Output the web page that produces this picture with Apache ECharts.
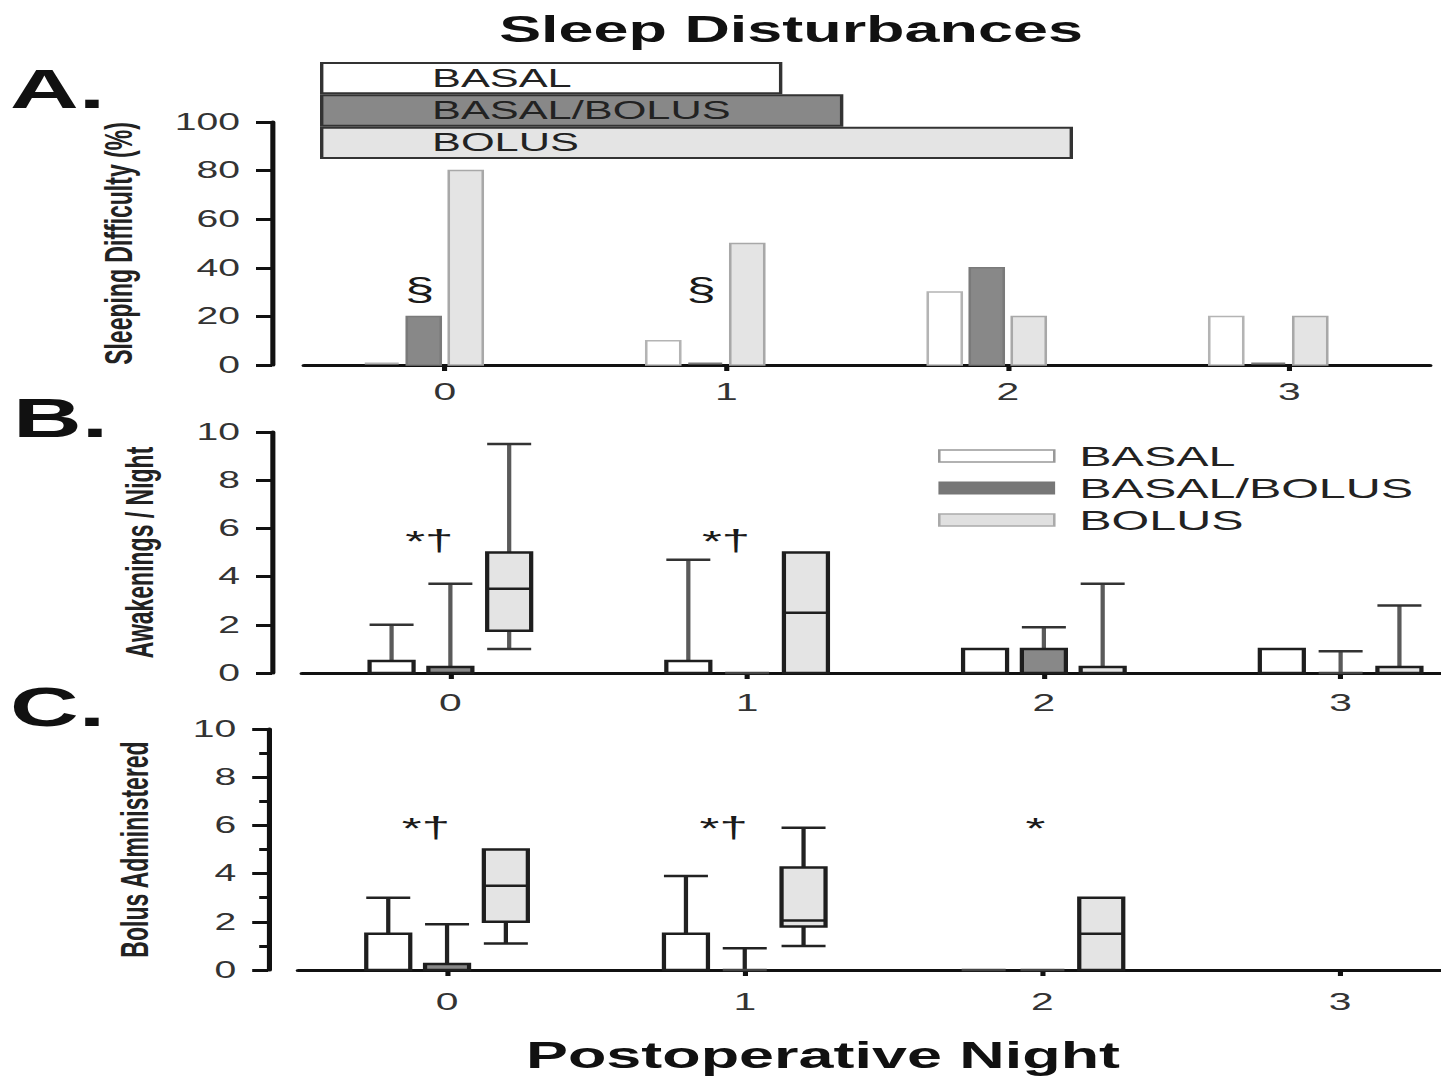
<!DOCTYPE html>
<html>
<head>
<meta charset="utf-8">
<title>Sleep Disturbances</title>
<script src="https://cdn.jsdelivr.net/npm/echarts@6/dist/echarts.min.js"></script>
<style>
  html, body { margin: 0; padding: 0; background: #fff; overflow: hidden; }
  #chart { height: 1081px; transform-origin: 0 0; }
</style>
</head>
<body>
<div id="chart"></div>
<script>
// The figure is laid out narrow and widened with a horizontal stretch,
// which gives the wide lettering and heavier vertical strokes of the print.
const SX = 1.7;
const X = v => v / SX;           // horizontal page pixels -> chart pixels

// ---- data --------------------------------------------------------------
const nights = ['0', '1', '2', '3'];
const groupNames = ['BASAL', 'BASAL/BOLUS', 'BOLUS'];

// A. share of patients with sleeping difficulty (%)
const difficultyBasal      = [0, 10, 30, 20];
const difficultyBasalBolus = [20, 0, 40, 0];
const difficultyBolus      = [80, 50, 20, 20];

// treatment span bars above panel A (relative length, BOLUS = 100)
const treatmentSpan = [61.4, 69.5, 100];

// B. awakenings per night: [min, q1, median, q3, max]
const wakeBasal = [[0, 0, 0, 0.5, 2], [0, 0, 0, 0.5, 4.7], [0, 0, 0, 1, 1], [0, 0, 0, 1, 1]];
const wakeBasalBolus = [[0, 0, 0, 0.25, 3.7], [0, 0, 0, 0, 0], [0, 0, 0, 1, 1.9], [0, 0, 0, 0, 0.9]];
const wakeBolus = [[1, 1.75, 3.5, 5, 9.5], [0, 0, 2.5, 5, 5], [0, 0, 0, 0.25, 3.7], [0, 0, 0, 0.25, 2.8]];

// C. boluses administered: [min, q1, median, q3, max]
const bolusBasal = [[0, 0, 0, 1.5, 3], [0, 0, 0, 1.5, 3.9], [0, 0, 0, 0, 0], null];
const bolusBasalBolus = [[0, 0, 0, 0.25, 1.9], [0, 0, 0, 0, 0.9], [0, 0, 0, 0, 0], null];
const bolusBolus = [[1.1, 2, 3.5, 5, 5], [1, 1.8, 2.05, 4.25, 5.9], [0, 0, 1.5, 3, 3], null];

// significance marks per night
const marksA = ['§', '§', '', ''];
const marksB = ['*†', '*†', '', ''];
const marksC = ['*†', '*†', '*', ''];

// ---- styling -----------------------------------------------------------
const FONT = '"Liberation Sans", Arial, Helvetica, sans-serif';
const fills   = ['#ffffff', '#888888', '#e4e4e4'];
const edgesA  = ['#b4b4b4', '#7a7a7a', '#a8a8a8'];
const boxEdge = '#1e1e1e';

const el = document.getElementById('chart');
el.style.width = (1441 / SX) + 'px';
el.style.transform = 'scaleX(' + SX + ')';
const chart = echarts.init(el, null, { renderer: 'svg' });

// bars of panel A, grouped a little left of each night's tick
function barSeries(values, slot) {
  return {
    type: 'custom', name: groupNames[slot], xAxisIndex: 1, yAxisIndex: 1,
    data: values.map((v, i) => [i, v]),
    renderItem(params, api) {
      const i = api.value(0), v = api.value(1);
      const top = api.coord([i, v]);
      const base = api.coord([i, 0]);
      const cx = base[0] + X(-21) + (slot - 1) * X(42);
      const w = X(34);
      if (v > 0) {
        return { type: 'rect',
          shape: { x: cx - w / 2, y: top[1], width: w, height: base[1] - top[1] },
          style: { fill: fills[slot], stroke: edgesA[slot], lineWidth: 1.5 } };
      }
      return { type: 'line',
        shape: { x1: cx - w / 2, y1: base[1] - 1.5, x2: cx + w / 2, y2: base[1] - 1.5 },
        style: { stroke: edgesA[slot], lineWidth: 2 } };
    }
  };
}

// box-and-whisker marks for panels B and C
function boxSeries(stats, slot, axis, whisker, cap) {
  return {
    type: 'custom', name: groupNames[slot], xAxisIndex: axis, yAxisIndex: axis,
    data: stats.map((s, i) => (s ? [i].concat(s) : null)).filter(Boolean),
    renderItem(params, api) {
      const i = api.value(0);
      const [mn, q1, md, q3, mx] = [1, 2, 3, 4, 5].map(k => api.value(k));
      const y = v => api.coord([i, v])[1];
      const cx = api.coord([i, 0])[0] + (slot - 1) * X(58.8);
      const w = X(44);
      const kids = [];
      const hline = (v, color) => ({ type: 'line',
        shape: { x1: cx - w / 2, y1: y(v), x2: cx + w / 2, y2: y(v) },
        style: { stroke: color, lineWidth: 2.5 } });
      if (mx > q3) {
        kids.push({ type: 'line', shape: { x1: cx, y1: y(q3), x2: cx, y2: y(mx) },
          style: { stroke: whisker, lineWidth: 2.5 } });
        kids.push(hline(mx, cap));
      }
      if (mn < q1) {
        kids.push({ type: 'line', shape: { x1: cx, y1: y(q1), x2: cx, y2: y(mn) },
          style: { stroke: whisker, lineWidth: 2.5 } });
        kids.push(hline(mn, cap));
      }
      if (q3 > q1) {
        kids.push({ type: 'rect',
          shape: { x: cx - w / 2, y: y(q3), width: w, height: y(q1) - y(q3) },
          style: { fill: fills[slot], stroke: boxEdge, lineWidth: 2.5 } });
        if (md > q1 && md < q3) kids.push(hline(md, boxEdge));
      } else {
        kids.push(hline(q1, '#444'));
      }
      return { type: 'group', children: kids };
    }
  };
}

// significance symbols placed over the middle group of a night
function markSeries(texts, axis, yVal, dx, align, size) {
  return {
    type: 'custom', xAxisIndex: axis, yAxisIndex: axis, silent: true,
    data: texts.map((t, i) => [i]),
    renderItem(params, api) {
      const t = texts[params.dataIndex];
      if (!t) return null;
      const p = api.coord([api.value(0), yVal]);
      return { type: 'text', x: p[0] + X(dx), y: p[1],
        style: { text: t, fill: '#1a1a1a', fontSize: size, fontFamily: FONT,
                 align: align, verticalAlign: 'middle' } };
    }
  };
}

const axisLine = { show: true, lineStyle: { color: '#111', width: 3 } };
const catAxis = (grid, offset) => ({
  gridIndex: grid, type: 'category', data: nights, offset: offset,
  axisLine: axisLine,
  axisTick: { show: true, alignWithLabel: true, interval: 0, length: 6,
              lineStyle: { color: '#111', width: 3 } },
  axisLabel: { fontSize: 24, color: '#333', margin: 15, fontFamily: FONT },
  splitLine: { show: false }
});
const valAxis = (grid, max, interval, offset, name, gap, minor) => ({
  gridIndex: grid, type: 'value', min: 0, max: max, interval: interval,
  offset: X(offset),
  axisLine: axisLine,
  axisTick: { show: true, inside: false, length: X(16), lineStyle: { color: '#111', width: 3 } },
  minorTick: { show: !!minor, splitNumber: 2, length: X(9), lineStyle: { color: '#111', width: 3 } },
  axisLabel: { fontSize: 23, color: '#333', margin: X(32), fontFamily: FONT },
  splitLine: { show: false },
  name: name, nameLocation: 'middle', nameRotate: 90, nameGap: gap,
  nameMoveOverlap: false,
  nameTextStyle: { fontSize: 23, fontWeight: 'bold', color: '#222', fontFamily: FONT }
});

const letter = (text, x, y) => ({
  type: 'text', x: X(x), y: y, silent: true,
  style: { text: text, fontSize: 56, fontWeight: 'bold', fontFamily: FONT, fill: '#111',
           align: 'left', verticalAlign: 'middle' }
});

const option = {
  backgroundColor: '#fff',
  animation: false,
  grid: [
    { left: X(320), width: X(753), top: 62, height: 97, outerBoundsMode: 'none' },
    { left: X(304), width: X(1126), top: 122, height: 243, outerBoundsMode: 'none' },
    { left: X(302), width: X(1187), top: 432, height: 241, outerBoundsMode: 'none' },
    { left: X(298.2), width: X(1190.8), top: 729, height: 241, outerBoundsMode: 'none' }
  ],
  xAxis: [
    { gridIndex: 0, type: 'value', min: 0, max: 100, show: false },
    catAxis(1, 0),
    catAxis(2, 3),
    catAxis(3, 5)
  ],
  yAxis: [
    { gridIndex: 0, type: 'category', data: groupNames, inverse: true, show: false },
    valAxis(1, 100, 20, 32, 'Sleeping Difficulty (%)', X(134), false),
    valAxis(2, 10, 2, 30, 'Awakenings / Night', X(113), false),
    valAxis(3, 10, 2, 30, 'Bolus Administered', X(114), true)
  ],
  legend: {
    orient: 'vertical', left: X(938), top: 441, padding: 0, icon: 'rect',
    itemWidth: X(115), itemHeight: 12, itemGap: 2, selectedMode: false,
    textStyle: { fontSize: 28.5, color: '#222', fontFamily: FONT, lineHeight: 30,
                 padding: [0, 0, 0, X(25) - 5] },
    data: [
      { name: groupNames[0], itemStyle: { color: '#fff', borderColor: '#999', borderWidth: 1.5 } },
      { name: groupNames[1], itemStyle: { color: '#777', borderColor: '#777', borderWidth: 1 } },
      { name: groupNames[2], itemStyle: { color: '#e0e0e0', borderColor: '#aaa', borderWidth: 1.5 } }
    ]
  },
  graphic: [
    { type: 'text', x: X(791), y: 29, silent: true,
      style: { text: 'Sleep Disturbances', fontSize: 37, fontWeight: 'bold', fontFamily: FONT,
               fill: '#111', align: 'center', verticalAlign: 'middle' } },
    { type: 'text', x: X(823), y: 1055, silent: true,
      style: { text: 'Postoperative Night', fontSize: 37, fontWeight: 'bold', fontFamily: FONT,
               fill: '#111', align: 'center', verticalAlign: 'middle' } },
    letter('A.', 10, 89),
    letter('B.', 13, 418),
    letter('C.', 10, 707)
  ],
  series: [
    {
      type: 'bar', xAxisIndex: 0, yAxisIndex: 0, barWidth: '100%', silent: true,
      data: treatmentSpan.map((v, i) => ({ value: v, itemStyle: { color: fills[i] } })),
      itemStyle: { borderColor: '#333', borderWidth: 2 },
      label: { show: true, position: 'insideLeft', distance: X(112),
               formatter: p => groupNames[p.dataIndex],
               fontSize: 25.5, color: '#222', fontFamily: FONT }
    },
    barSeries(difficultyBasal, 0),
    barSeries(difficultyBasalBolus, 1),
    barSeries(difficultyBolus, 2),
    markSeries(marksA, 1, 31, -25, 'center', 31),

    boxSeries(wakeBasal, 0, 2, '#5a5a5a', '#333'),
    boxSeries(wakeBasalBolus, 1, 2, '#5a5a5a', '#333'),
    boxSeries(wakeBolus, 2, 2, '#5a5a5a', '#333'),
    markSeries(marksB, 2, 5.5, 3, 'right', 30),

    boxSeries(bolusBasal, 0, 3, '#222', '#222'),
    boxSeries(bolusBasalBolus, 1, 3, '#222', '#222'),
    boxSeries(bolusBolus, 2, 3, '#222', '#222'),
    markSeries(marksC, 3, 5.9, 3, 'right', 30)
  ]
};

chart.setOption(option);
</script>
</body>
</html>
